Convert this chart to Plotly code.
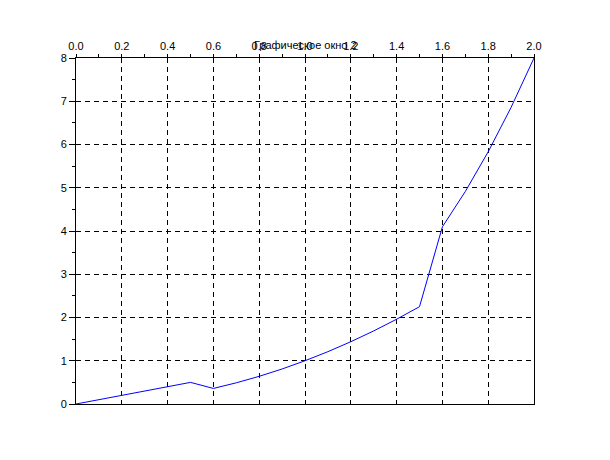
import plotly.graph_objects as go

x_values = [0.0, 0.1, 0.2, 0.3, 0.4, 0.5, 0.6, 0.7, 0.8, 0.9, 1.0,
            1.1, 1.2, 1.3, 1.4, 1.5, 1.6, 1.7, 1.8, 1.9, 2.0]
y_values = [0.0, 0.1, 0.2, 0.3, 0.4, 0.5, 0.36, 0.49, 0.64, 0.81, 1.0,
            1.21, 1.44, 1.69, 1.96, 2.25, 4.096, 4.913, 5.832, 6.859, 8.0]
x_ticks = [0.0, 0.2, 0.4, 0.6, 0.8, 1.0, 1.2, 1.4, 1.6, 1.8, 2.0]
x_tick_labels = ["0.0", "0.2", "0.4", "0.6", "0.8", "1.0", "1.2", "1.4", "1.6", "1.8", "2.0"]
y_ticks = [0, 1, 2, 3, 4, 5, 6, 7, 8]
y_tick_labels = ["0", "1", "2", "3", "4", "5", "6", "7", "8"]
title_text = "Графическое окно 2"

font_family = "Liberation Sans, Arial, sans-serif"

fig = go.Figure()
fig.add_trace(go.Scatter(x=x_values, y=y_values, mode="lines",
                         line=dict(color="#0000ff", width=1), showlegend=False))

fig.update_layout(
    width=610, height=460,
    margin=dict(l=68, r=84, t=50, b=64),
    paper_bgcolor="white", plot_bgcolor="white",
    font=dict(family=font_family, size=11, color="black"),
    xaxis=dict(
        side="top", range=[0, 2], tickmode="array",
        tickvals=x_ticks, ticktext=x_tick_labels,
        ticks="outside", ticklen=3, tickcolor="black", tickwidth=1,
        showline=True, linecolor="black", linewidth=1, mirror=True,
        showgrid=True, gridcolor="black", gridwidth=1, griddash="5px,4px",
        zeroline=False, automargin=False,
        minor=dict(ticks="outside", ticklen=3, tickcolor="black", dtick=0.1, tick0=0, showgrid=False),
        tickfont=dict(size=11, color="black"),
    ),
    yaxis=dict(
        range=[0, 8], tickmode="array",
        tickvals=y_ticks, ticktext=y_tick_labels,
        ticks="outside", ticklen=6, tickcolor="black", tickwidth=1,
        showline=True, linecolor="black", linewidth=1, mirror=True,
        showgrid=True, gridcolor="black", gridwidth=1, griddash="5px,4px",
        zeroline=False, automargin=False,
        minor=dict(ticks="outside", ticklen=3, tickcolor="black", dtick=0.5, tick0=0, showgrid=False),
        tickfont=dict(size=11, color="black"),
    ),
    annotations=[dict(text=title_text, xref="paper", yref="paper", x=0.5, y=1,
                      yshift=13, xanchor="center", yanchor="middle", showarrow=False,
                      font=dict(size=11, color="black", family=font_family))],
)

fig.write_html("out.html")
